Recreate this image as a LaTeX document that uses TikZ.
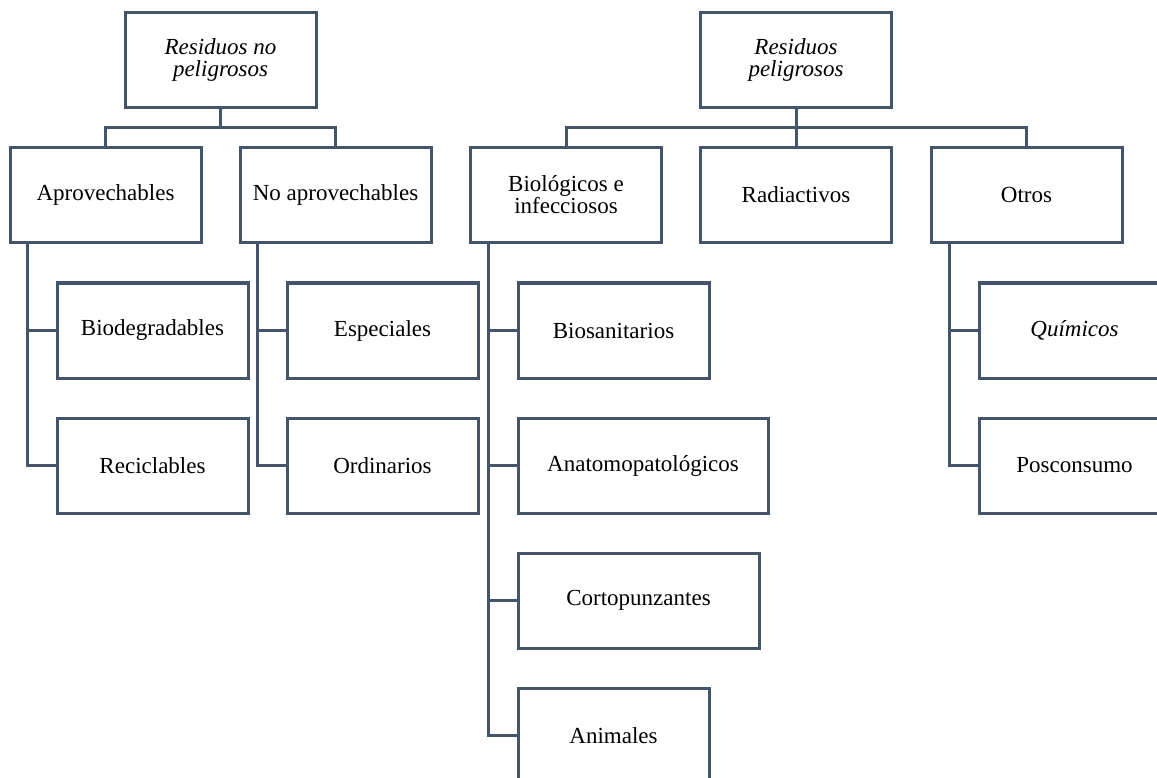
\documentclass[tikz,border=0pt]{standalone}
\usepackage{fontspec}
\setmainfont{Liberation Serif}
\definecolor{pizarra}{RGB}{68,84,106}

\begin{document}
\begin{tikzpicture}[x=1pt, y=1pt, line width=3pt,
	caja/.style={draw=pizarra, rectangle, minimum width=191pt, minimum height=95pt,
		inner sep=4pt, align=center, font=\fontsize{23}{22}\selectfont},
	rama/.style={draw=pizarra}]
			\useasboundingbox (0, 0) rectangle (1157, -778);
			
			% raices
			\node[caja] (noPel) at (220.5, -60) {\itshape Residuos no\\\itshape peligrosos};
			\node[caja] (pel) at (796, -60) {\itshape Residuos\\\itshape peligrosos};
			
			% primer nivel
			\node[caja] (aprov) at (105.5, -195) {Aprovechables};
			\node[caja] (noAprov) at (335.5, -195) {No aprovechables};
			\node[caja] (bioInf) at (566, -195) {Biológicos e\\infecciosos};
			\node[caja] (radiact) at (796, -195) {Radiactivos};
			\node[caja] (otros) at (1026.5, -195) {Otros};
			
			% segundo nivel
			\node[caja] (biodeg) at (152.5, -330.5) {Biodegradables};
			\node[caja] (recic) at (152.5, -465.5) {Reciclables};
			\node[caja] (espec) at (382.5, -330.5) {Especiales};
			\node[caja] (ordin) at (382.5, -465.5) {Ordinarios};
			\node[caja] (biosan) at (613.5, -330.5) {Biosanitarios};
			\node[caja, minimum width=250pt] (anato) at (643, -465.5) {Anatomopatológicos};
			\node[caja, minimum width=241pt] (corto) at (638.5, -600.5) {Cortopunzantes};
			\node[caja] (anim) at (613.5, -735.5) {Animales};
			\node[caja] (quim) at (1074.5, -330.5) {\itshape Químicos};
			\node[caja] (poscon) at (1074.5, -465.5) {Posconsumo};
			
			% ramas superiores
			\draw[rama] (noPel.south) -- ++(0, -19) coordinate (nodoA);
			\draw[rama] (aprov.north) |- (nodoA) -| (noAprov.north);
			\draw[rama] (pel.south) -- (radiact.north);
			\draw[rama] (bioInf.north) |- ([yshift=-19pt]pel.south) -| (otros.north);
			
			% ramas laterales
			\draw[rama] ([xshift=19pt]aprov.south west) |- (biodeg.west);
			\draw[rama] ([xshift=19pt]aprov.south west) |- (recic.west);
			\draw[rama] ([xshift=19pt]noAprov.south west) |- (espec.west);
			\draw[rama] ([xshift=19pt]noAprov.south west) |- (ordin.west);
			\draw[rama] ([xshift=19pt]bioInf.south west) |- (biosan.west);
			\draw[rama] ([xshift=19pt]bioInf.south west) |- (anato.west);
			\draw[rama] ([xshift=19pt]bioInf.south west) |- (corto.west);
			\draw[rama] ([xshift=19pt]bioInf.south west) |- (anim.west);
			\draw[rama] ([xshift=20pt]otros.south west) |- (quim.west);
			\draw[rama] ([xshift=20pt]otros.south west) |- (poscon.west);
			\end{tikzpicture}
\end{document}
